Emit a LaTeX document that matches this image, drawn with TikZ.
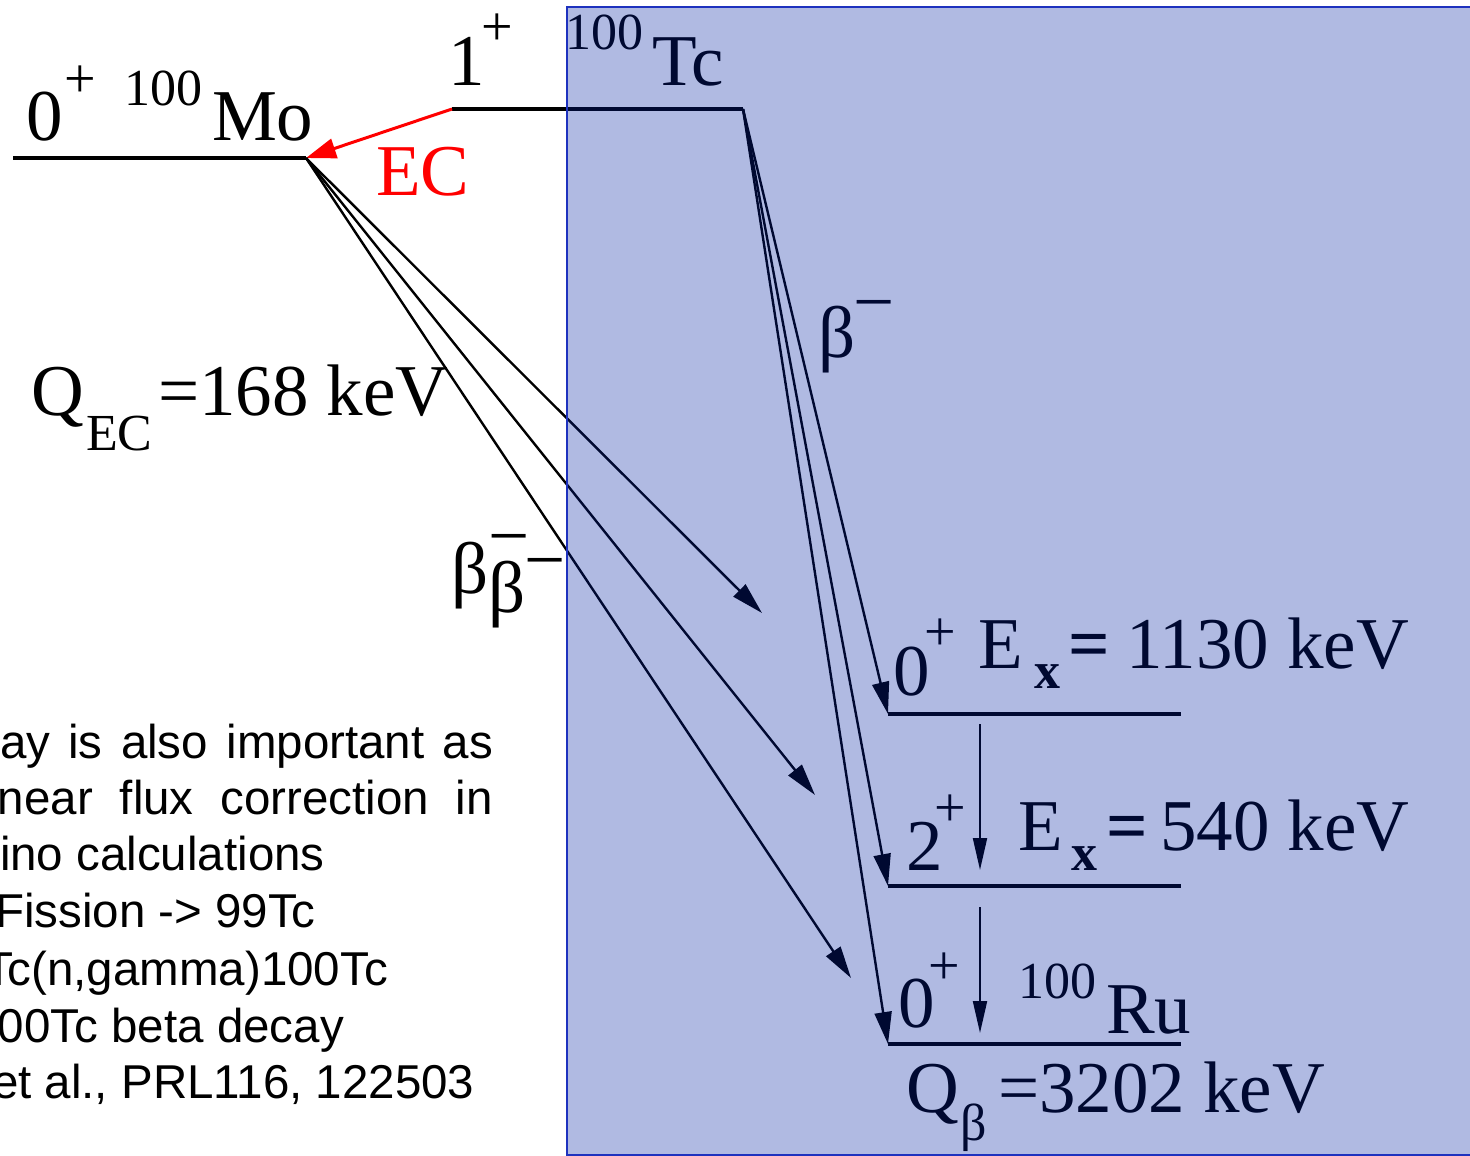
\documentclass[tikz,border=0pt]{standalone}
\usepackage{fontspec}
\setmainfont{Liberation Serif}
\newfontfamily\notefamily{Liberation Sans}
\usetikzlibrary{arrows.meta}
\definecolor{ovl}{RGB}{0,32,161}
\definecolor{ovlborder}{RGB}{30,50,190}
\newcommand\FBig{\fontsize{73}{82}\selectfont}
\newcommand\FSmall{\fontsize{52}{60}\selectfont}
\newcommand\FPlus{\fontsize{56}{60}\selectfont}
\newcommand\FNote{\notefamily\fontsize{47.5}{57}\selectfont}
\begin{document}
\begin{tikzpicture}[x=1pt,y=-1pt,
  txt/.style={inner sep=0pt, outer sep=0pt, anchor=base west, font=\FBig},
  stxt/.style={txt, font=\FSmall},
  ptxt/.style={txt, font=\FPlus},
  btxt/.style={txt, font=\FBig\bfseries},
  bstxt/.style={txt, font=\FSmall\bfseries},
  note/.style={txt, font=\FNote},
  level/.style={line width=4.5pt},
  decay/.style={line width=2.4pt, -{Triangle[length=32pt,width=17pt]}},
  gam/.style={line width=2pt, -{Triangle[length=32pt,width=14pt]}},
  ecarrow/.style={draw=red, line width=3pt, -{Triangle[length=30pt,width=20pt]}}]
\useasboundingbox (0,0) rectangle (1470,1156);
\begin{scope}
\clip (0,0) rectangle (1470,1156);
% coordinates
\coordinate (moL) at (13,158);
\coordinate (moR) at (306,158);
\coordinate (tcL) at (452,109);
\coordinate (tcR) at (743,109);
\coordinate (l1L) at (888,714);
\coordinate (l1R) at (1181,714);
\coordinate (l2L) at (888,886);
\coordinate (l2R) at (1181,886);
\coordinate (l3L) at (888,1044);
\coordinate (l3R) at (1181,1044);
\coordinate (bb1end) at (762,613);
\coordinate (bb2end) at (815,795);
\coordinate (bb3end) at (851,978);
\coordinate (g1s) at (980,724);
\coordinate (g1e) at (980,870);
\coordinate (g2s) at (980,907);
\coordinate (g2e) at (980,1033);
% levels
\draw[level] (moL) -- (moR);
\draw[level] (tcL) -- (tcR);
\draw[level] (l1L) -- (l1R);
\draw[level] (l2L) -- (l2R);
\draw[level] (l3L) -- (l3R);
% EC
\draw[ecarrow] (tcL) -- (moR);
% double beta
\draw[decay] (moR) -- (bb1end);
\draw[decay] (moR) -- (bb2end);
\draw[decay] (moR) -- (bb3end);
% beta minus
\draw[decay] (tcR) -- (l1L);
\draw[decay] (tcR) -- (l2L);
\draw[decay] (tcR) -- (l3L);
% gammas
\draw[gam] (g1s) -- (g1e);
\draw[gam] (g2s) -- (g2e);
% Mo label
\node[txt] (zeroMo) at (27,140) {0};
\node[ptxt] (plusMo) at (64,97) {+};
\node[stxt] (massMo) at (124,105) {100};
\node[txt] (Mo) at (212,140) {Mo};
% Tc label
\node[txt] (oneTc) at (448,85) {1};
\node[ptxt] (plusTc) at (481,46) {+};
\node[stxt] (massTc) at (565,50) {100};
\node[txt] (Tc) at (652,85) {Tc};
\node[txt, text=red] (EC) at (376,195) {EC};
% beta minus label
\node[txt] (betaTc) at (818,357) {β};
\node[txt] (minusTc) at (853,326) {−};
% QEC
\node[txt] (QEC) at (31,415) {Q};
\node[stxt] (subEC) at (86,450) {EC};
\node[txt] (valEC) at (158,415) {=168 keV};
% double beta label
\node[txt] (bbA) at (451,593) {β};
\node[txt] (bbB) at (488,612) {β};
\node[txt] (bbBar) at (488,560) {−};
\node[txt] (bbMinus) at (524,584) {−};
% level 1 label
\node[txt] (zeroA) at (893,695) {0};
\node[ptxt] (plusA) at (924,650) {+};
\node[txt] (EA) at (978,668) {E};
\node[bstxt] (xA) at (1034,688) {x};
\node[btxt] (eqA) at (1068,668) {=};
\node[txt] (valA) at (1126,668) {1130 keV};
% level 2 label
\node[txt] (twoB) at (906,870) {2};
\node[ptxt] (plusB) at (934,826) {+};
\node[txt] (EB) at (1018,850) {E};
\node[bstxt] (xB) at (1071,870) {x};
\node[btxt] (eqB) at (1106,850) {=};
\node[txt] (valB) at (1160,850) {540 keV};
% ground label
\node[txt] (zeroC) at (898,1027) {0};
\node[ptxt] (plusC) at (928,984) {+};
\node[stxt] (massRu) at (1018,998) {100};
\node[txt] (Ru) at (1106,1033) {Ru};
\node[txt] (Qb) at (906,1112) {Q};
\node[stxt] (subB) at (960,1140) {β};
\node[txt] (valQ) at (998,1112) {=3202 keV};
% note text
\node[note] (n1) at (0,758) {\makebox[493pt][s]{ay is also important as}};
\node[note] (n2) at (-2,814) {\makebox[495pt][s]{near flux correction in}};
\node[note] (n3) at (0,870) {ino calculations};
\node[note] (n4) at (-5,927) {Fission -> 99Tc};
\node[note] (n5) at (-16,985) {Tc(n,gamma)100Tc};
\node[note] (n6) at (-2,1042) {00Tc beta decay};
\node[note] (n7) at (-8,1098) {et al., PRL116, 122503};
% overlay
\fill[ovl, fill opacity=0.31] (567,7) rectangle (1475,1155);
\draw[ovlborder, line width=2pt] (1475,7) -- (567,7) -- (567,1155) -- (1475,1155);
\end{scope}
\end{tikzpicture}
\end{document}
